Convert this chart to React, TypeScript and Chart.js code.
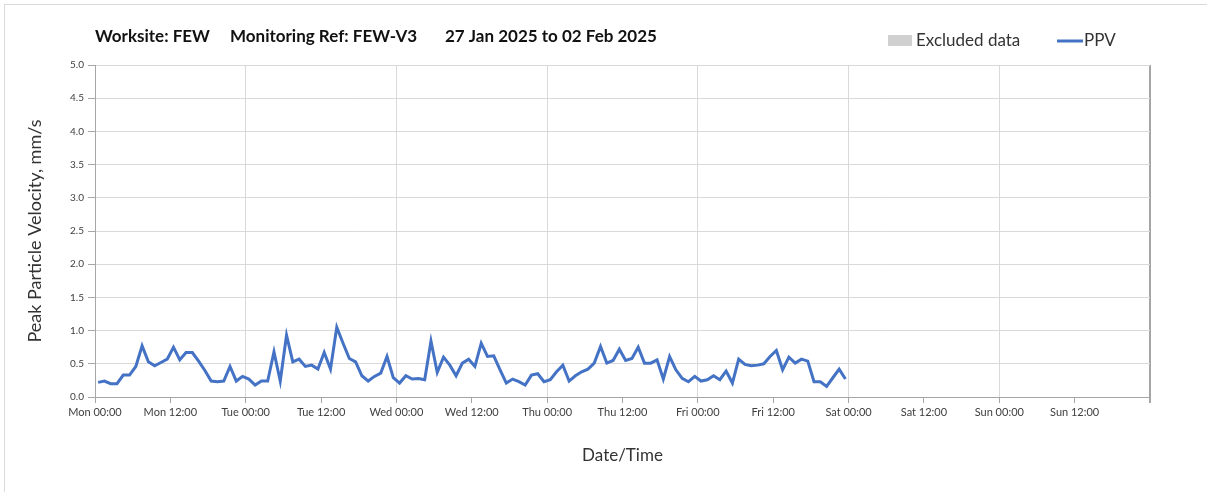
import React, { useEffect, useRef } from 'react';
import { Chart, registerables } from 'chart.js';

Chart.register(...registerables);

const titleParts = ['Worksite: FEW', 'Monitoring Ref: FEW-V3', '27 Jan 2025 to 02 Feb 2025'];
const legendExcluded = 'Excluded data';
const seriesLabel = 'PPV';
const xAxisTitle = 'Date/Time';
const yAxisTitle = 'Peak Particle Velocity, mm/s';
const dayNames = ['Mon', 'Tue', 'Wed', 'Thu', 'Fri', 'Sat', 'Sun'];

// hourly PPV readings (mm/s), first reading at Mon 00:30
const firstReadingHour = 0.5;
const readingIntervalHours = 1;
const ppv = [
  0.22, 0.24, 0.20, 0.20, 0.33, 0.33, 0.46, 0.77, 0.53, 0.47, 0.52, 0.57,
  0.75, 0.56, 0.67, 0.67, 0.54, 0.40, 0.24, 0.23, 0.24, 0.46, 0.24, 0.31,
  0.27, 0.18, 0.24, 0.24, 0.68, 0.24, 0.93, 0.53, 0.57, 0.46, 0.48, 0.42,
  0.67, 0.42, 1.05, 0.81, 0.58, 0.53, 0.32, 0.24, 0.31, 0.36, 0.61, 0.29,
  0.21, 0.32, 0.27, 0.28, 0.26, 0.84, 0.37, 0.60, 0.48, 0.32, 0.51, 0.57,
  0.46, 0.81, 0.61, 0.62, 0.41, 0.21, 0.27, 0.23, 0.18, 0.33, 0.35, 0.23,
  0.26, 0.38, 0.48, 0.24, 0.32, 0.38, 0.42, 0.51, 0.76, 0.51, 0.55, 0.72,
  0.55, 0.58, 0.75, 0.51, 0.51, 0.56, 0.27, 0.61, 0.41, 0.28, 0.23, 0.31,
  0.24, 0.26, 0.32, 0.26, 0.39, 0.21, 0.57, 0.49, 0.47, 0.48, 0.50, 0.61,
  0.70, 0.41, 0.60, 0.51, 0.57, 0.54, 0.23, 0.23, 0.16, 0.29, 0.42, 0.27,
];

const xMin = 0;
const xMax = 168;
const xStep = 12;
const yMin = 0;
const yMax = 5;
const yStep = 0.5;

const FONT = 'Lato, "Open Sans", sans-serif';

function tickLabel(v: number): string {
  if (v >= xMax) return '';
  const day = dayNames[Math.floor(v / 24)];
  const hh = String(v % 24).padStart(2, '0');
  return `${day} ${hh}:00`;
}

const overlayPlugin = {
  id: 'overlay',
  afterDraw(chart: any) {
    const { ctx, chartArea } = chart;
    ctx.save();
    // title
    ctx.fillStyle = '#111111';
    ctx.font = `bold 17px ${FONT}`;
    ctx.textBaseline = 'middle';
    ctx.textAlign = 'left';
    const offsets = [0, 135, 350];
    titleParts.forEach((t, i) => ctx.fillText(t, chartArea.left + offsets[i], 37));
    // legend
    ctx.fillStyle = '#d0d0d0';
    ctx.fillRect(888, 35, 24, 11);
    ctx.fillStyle = '#333333';
    ctx.font = `17px ${FONT}`;
    ctx.fillText(legendExcluded, 916, 41);
    ctx.strokeStyle = '#4472C4';
    ctx.lineWidth = 3;
    ctx.beginPath();
    ctx.moveTo(1057, 41);
    ctx.lineTo(1083, 41);
    ctx.stroke();
    ctx.fillText(seriesLabel, 1084, 41);
    ctx.restore();
  },
};

export default function App() {
  const ref = useRef<HTMLCanvasElement | null>(null);

  useEffect(() => {
    if (!ref.current) return;
    const chart = new Chart(ref.current, {
      type: 'line',
      data: {
        datasets: [
          {
            label: seriesLabel,
            data: ppv.map((v, i) => ({ x: firstReadingHour + i * readingIntervalHours, y: v })),
            borderColor: '#4472C4',
            borderWidth: 3,
            pointRadius: 0,
            tension: 0,
            fill: false,
          },
        ],
      },
      options: {
        responsive: false,
        animation: false,
        layout: { padding: { left: 0, top: 65, right: 57, bottom: 0 } },
        plugins: {
          legend: { display: false },
          tooltip: { enabled: false },
          title: { display: false },
        },
        scales: {
          x: {
            type: 'linear',
            min: xMin,
            max: xMax,
            afterFit: (s: any) => {
              s.height = 95;
            },
            ticks: {
              stepSize: xStep,
              autoSkip: false,
              maxRotation: 0,
              minRotation: 0,
              padding: 3,
              color: '#404040',
              font: { family: FONT, size: 11 },
              callback: (v: any) => tickLabel(Number(v)),
            },
            grid: {
              color: (c: any) => {
                const v = c.tick ? c.tick.value : 0;
                if (v === xMax) return '#a6a6a6';
                return v % 24 === 0 ? '#d9d9d9' : 'rgba(0,0,0,0)';
              },
              lineWidth: (c: any) => (c.tick && c.tick.value === xMax ? 2 : 1),
              tickColor: '#a6a6a6',
              tickLength: 6,
            },
            border: { color: '#a6a6a6', width: 1 },
            title: {
              display: true,
              text: xAxisTitle,
              color: '#333333',
              font: { family: FONT, size: 17 },
              padding: { top: 0, bottom: 26 },
            },
          },
          y: {
            min: yMin,
            max: yMax,
            afterFit: (s: any) => {
              s.width = 95;
            },
            ticks: {
              stepSize: yStep,
              padding: 4,
              color: '#404040',
              font: { family: FONT, size: 10 },
              callback: (v: any) => Number(v).toFixed(1),
            },
            grid: {
              color: '#d9d9d9',
              tickColor: '#a6a6a6',
              tickLength: 7,
            },
            border: { color: '#a6a6a6', width: 1 },
            title: {
              display: true,
              text: yAxisTitle,
              color: '#333333',
              font: { family: FONT, size: 18 },
              padding: { top: 24, bottom: 0 },
            },
          },
        },
      },
      plugins: [overlayPlugin],
    });
    return () => chart.destroy();
  }, []);

  return (
    <div style={{ position: 'absolute', left: 0, top: 0, width: 1207, height: 492, background: '#ffffff' }}>
      <div
        style={{
          position: 'absolute',
          left: 4,
          top: 4,
          right: 0,
          bottom: 0,
          borderLeft: '1px solid #d9d9d9',
          borderTop: '1px solid #d9d9d9',
        }}
      />
      <canvas ref={ref} width={1207} height={492} style={{ position: 'absolute', left: 0, top: 0, display: 'block' }} />
    </div>
  );
}
